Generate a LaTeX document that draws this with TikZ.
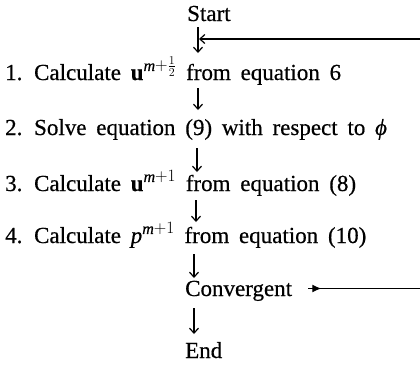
\documentclass[tikz,border=0pt]{standalone}
\usepackage{fontspec}
\setmainfont{Liberation Serif}[WordSpace=1.7,FakeBold=0.5]
\usetikzlibrary{arrows.meta,decorations.markings,calc}
\begin{document}
\begin{tikzpicture}[x=1pt,y=-1pt,
  txt/.style={anchor=base west,inner sep=0pt,text height=15pt,text depth=0pt,
    font=\fontsize{23}{27}\selectfont},
  flow/.style={-{Straight Barb[length=5pt,width=9pt]},line width=1.2pt},
  back/.style={line width=1.2pt}]
\useasboundingbox (0,0) rectangle (420,365);
\clip (0,0) rectangle (420,365);
% columns of the arrows and right edge of the loop
\coordinate (colA) at (198,0);
\coordinate (colB) at (197,0);
\coordinate (colC) at (196,0);
\coordinate (colD) at (194,0);
\coordinate (edge) at (430,0);
\node[txt] (start) at (187,21) {Start};
\node[txt] (s1) at (5,80) {1. Calculate $\mathbf{u}^{\mathit{m}+\frac{1}{2}}$ from equation 6};
\node[txt] (s2) at (5,135) {2. Solve equation (9) with respect to \textit{ϕ}};
\node[txt] (s3) at (5,191) {3. Calculate $\mathbf{u}^{\mathit{m}+1}$ from equation (8)};
\node[txt] (s4) at (5,243) {4. Calculate $\mathit{p}^{\mathit{m}+1}$ from equation (10)};
\node[txt] (conv) at (185,296) {Convergent};
\node[txt] (end) at (185,358) {End};
% main flow
\draw[flow] ($(start.base -| colA)+(0,6)$) -- ($(s1.base -| colA)+(0,-27)$);
\draw[flow] ($(s1.base -| colA)+(0,8)$) -- ($(s2.base -| colA)+(0,-25)$);
\draw[flow] ($(s2.base -| colB)+(0,13)$) -- ($(s3.base -| colB)+(0,-19)$);
\draw[flow] ($(s3.base -| colC)+(0,9)$) -- ($(s4.base -| colC)+(0,-21)$);
\draw[flow] ($(s4.base -| colD)+(0,11)$) -- ($(conv.base -| colD)+(0,-18)$);
\draw[flow] ($(conv.base -| colD)+(0,12)$) -- ($(end.base -| colD)+(0,-24)$);
% feedback loop
\coordinate (hit) at (199,39);
\draw[back,
  postaction={decorate},
  decoration={markings,mark=at position 13pt with {\arrow{Latex[length=9pt,width=8pt]}}},
  -{Straight Barb[length=5pt,width=9pt]}]
  ($(conv.east)+(16,0)$) -- (conv.east -| edge) |- (hit);
\end{tikzpicture}
\end{document}
